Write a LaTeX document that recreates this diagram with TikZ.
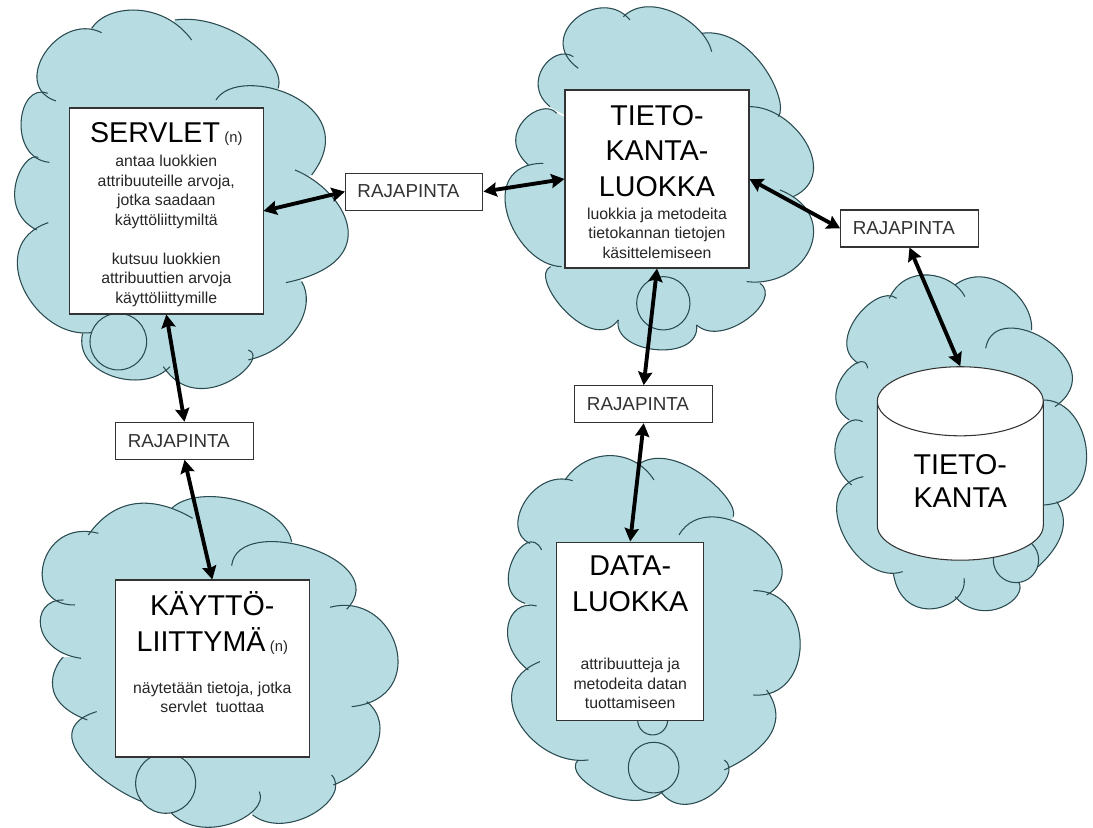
\documentclass[tikz,border=0pt]{standalone}
\usepackage{fontspec}
\setmainfont{Liberation Sans}
\usetikzlibrary{arrows.meta, shapes.geometric, calc}
\definecolor{cloudblue}{HTML}{B7DDE3}
\definecolor{cloudedge}{HTML}{2B4B50}
\definecolor{boxedge}{HTML}{333333}
\setlength{\lineskiplimit}{-100pt}
\newcommand{\titlefont}{\fontsize{16.3}{11.1}\selectfont}
\newcommand{\bodyfont}{\fontsize{9}{11.1}\selectfont}
\newcommand{\nfont}{\fontsize{8.4}{11.1}\selectfont}
\newcommand{\lobe}[4]{\lobeop #1 .. controls ($-0.8333*#1+3*#2-1.5*#3+0.3333*#4$) and ($0.3333*#1-1.5*#2+3*#3-0.8333*#4$) .. #4 \lobeend;}
\newcommand{\cloud}[2]{%
  \coordinate (mid) at #1;
  \def\lobeop{\fill[cloudblue, draw=cloudblue, line width=0.4pt] (mid) -- }\def\lobeend{ -- cycle}#2
  \def\lobeop{\draw[cloudline] }\def\lobeend{}#2
}
\tikzset{
  cloudline/.style={draw=cloudedge, line width=0.6pt},
  tail/.style={draw=cloudedge, fill=cloudblue, line width=0.6pt},
  bigbox/.style={draw=boxedge, fill=white, line width=0.6pt, inner sep=0pt, align=center, font=\bodyfont, text=black!85},
  rajabox/.style={draw=boxedge, fill=white, line width=0.6pt, inner xsep=0.24cm, inner ysep=0pt, text width=2.27cm, minimum height=0.74cm, align=left, font=\fontsize{10.7}{12}\selectfont, text=black!80},
  link/.style={{Stealth[length=7.5pt,width=8pt,inset=1pt]}-{Stealth[length=7.5pt,width=8pt,inset=1pt]}, line width=2.2pt, black}
}
\begin{document}
\begin{tikzpicture}[x=0.02cm, y=-0.02cm]
      \useasboundingbox (0,0) rectangle (1093,828);

      \begin{scope}[scale=0.3333]
        \cloud{(500,600)}{
          \lobe{(168,303)}{(112,215)}{(180,112)}{(305,98)}
          \lobe{(275,85)}{(355,35)}{(470,42)}{(575,120)}
          \lobe{(525,60)}{(680,85)}{(800,170)}{(835,265)}
          \lobe{(648,300)}{(790,260)}{(950,345)}{(935,525)}
          \lobe{(885,510)}{(1012,610)}{(1035,745)}{(858,848)}
          \lobe{(905,845)}{(915,930)}{(860,1020)}{(745,1080)}
          \lobe{(745,1050)}{(735,1110)}{(620,1165)}{(490,1100)}
          \lobe{(510,1100)}{(400,1140)}{(285,1100)}{(248,1000)}
          \lobe{(280,997)}{(123,940)}{(52,790)}{(145,668)}
          \lobe{(110,690)}{(45,600)}{(65,505)}{(115,472)}
          \lobe{(148,487)}{(70,420)}{(75,315)}{(143,280)}
        }
        \draw[tail] (355,1025) circle[radius=85];
      \end{scope}

      \begin{scope}[shift={(0,400)}, scale=0.3333]
        \cloud{(640,780)}{
          \lobe{(225,615)}{(130,550)}{(160,435)}{(295,400)}
          \lobe{(265,405)}{(370,320)}{(480,315)}{(578,355)}
          \lobe{(515,325)}{(640,290)}{(790,330)}{(875,425)}
          \lobe{(695,497)}{(825,425)}{(1020,490)}{(1040,628)}
          \lobe{(990,622)}{(1150,670)}{(1190,820)}{(1055,920)}
          \lobe{(1100,905)}{(1140,990)}{(1100,1085)}{(1000,1155)}
          \lobe{(995,1125)}{(985,1205)}{(880,1265)}{(758,1245)}
          \lobe{(778,1175)}{(745,1245)}{(630,1282)}{(510,1235)}
          \lobe{(500,1210)}{(370,1178)}{(228,1050)}{(290,935)}
          \lobe{(262,960)}{(165,885)}{(165,810)}{(190,772)}
          \lobe{(243,775)}{(140,720)}{(125,640)}{(190,600)}
        }
        \draw[tail] (497,1150) circle[radius=90];
      \end{scope}

      \begin{scope}[shift={(460,0)}, scale=0.3333]
        \cloud{(600,500)}{
          \lobe{(355,205)}{(315,100)}{(400,28)}{(510,60)}
          \lobe{(490,50)}{(590,22)}{(695,70)}{(755,155)}
          \lobe{(725,100)}{(860,145)}{(945,260)}{(955,350)}
          \lobe{(870,320)}{(995,375)}{(1060,490)}{(1000,590)}
          \lobe{(960,570)}{(1060,680)}{(1010,800)}{(860,845)}
          \lobe{(900,850)}{(900,920)}{(810,985)}{(710,975)}
          \lobe{(710,975)}{(650,1045)}{(530,1035)}{(475,960)}
          \lobe{(475,960)}{(370,975)}{(275,880)}{(272,800)}
          \lobe{(305,800)}{(178,718)}{(137,570)}{(250,490)}
          \lobe{(205,495)}{(170,400)}{(225,335)}{(290,340)}
          \lobe{(270,320)}{(235,240)}{(275,175)}{(340,170)}
        }
        \draw[tail] (610,910) circle[radius=80];
      \end{scope}

      \begin{scope}[shift={(480,400)}, scale=0.3333]
        \cloud{(500,700)}{
          \lobe{(150,430)}{(115,355)}{(170,265)}{(278,242)}
          \lobe{(255,240)}{(340,175)}{(440,175)}{(522,240)}
          \lobe{(480,190)}{(605,190)}{(720,270)}{(760,350)}
          \lobe{(597,405)}{(745,358)}{(888,460)}{(860,585)}
          \lobe{(820,572)}{(945,655)}{(945,810)}{(820,885)}
          \lobe{(860,870)}{(885,970)}{(830,1050)}{(733,1110)}
          \lobe{(733,1080)}{(730,1150)}{(640,1210)}{(540,1172)}
          \lobe{(555,1170)}{(430,1198)}{(315,1145)}{(295,1080)}
          \lobe{(325,1080)}{(170,1030)}{(95,900)}{(180,785)}
          \lobe{(145,810)}{(85,720)}{(100,640)}{(170,618)}
          \lobe{(135,610)}{(85,530)}{(125,440)}{(185,450)}
        }
        \draw[tail] (518,960) circle[radius=45];
        \draw[tail] (521,1103) circle[radius=76];
      \end{scope}

      \begin{scope}[shift={(780,170)}, scale=0.3333]
        \cloud{(550,800)}{
          \lobe{(235,580)}{(205,490)}{(270,400)}{(350,385)}
          \lobe{(328,385)}{(400,320)}{(490,325)}{(555,380)}
          \lobe{(525,345)}{(630,325)}{(720,385)}{(755,480)}
          \lobe{(617,535)}{(725,478)}{(860,570)}{(825,710)}
          \lobe{(790,690)}{(900,770)}{(910,920)}{(790,1005)}
          \lobe{(830,995)}{(845,1090)}{(790,1175)}{(715,1235)}
          \lobe{(715,1235)}{(700,1290)}{(620,1322)}{(525,1280)}
          \lobe{(552,1225)}{(510,1300)}{(410,1310)}{(340,1210)}
          \lobe{(368,1205)}{(235,1160)}{(170,1020)}{(250,920)}
          \lobe{(215,945)}{(165,850)}{(190,770)}{(248,755)}
          \lobe{(208,750)}{(170,660)}{(220,585)}{(263,595)}
        }
        \draw[tail] (708,1170) circle[radius=68];
      \end{scope}

      \node[bigbox, minimum width=3.87cm, minimum height=4.12cm] (servlet) at (166.3,211) {\rule{0pt}{15.4pt}{\titlefont\textcolor{black}{SERVLET}} {\nfont (n)}\\[2.6pt] antaa luokkien\\ attribuuteille arvoja,\\ jotka saadaan\\ käyttöliittymiltä\\[11.2pt] kutsuu luokkien\\ attribuuttien arvoja\\ käyttöliittymille};
      \node[bigbox, minimum width=3.87cm, minimum height=3.54cm] (kaytto) at (212.3,668.5) {{\titlefont\textcolor{black}{KÄYTTÖ-}}\\[9.4pt] {\titlefont\textcolor{black}{LIITTYMÄ}} {\nfont (n)}\\[13pt] näytetään tietoja, jotka\\ servlet\ \ tuottaa\\[7.7pt] \mbox{}};
      \node[bigbox, minimum width=3.68cm, minimum height=3.56cm] (tietoluokka) at (657,179) {\rule{0pt}{15pt}{\titlefont\textcolor{black}{TIETO-}}\\[8.9pt] {\titlefont\textcolor{black}{KANTA-}}\\[8.9pt] {\titlefont\textcolor{black}{LUOKKA}}\\[2.2pt] luokkia ja metodeita\\ tietokannan tietojen\\ käsittelemiseen};
      \node[bigbox, minimum width=2.94cm, minimum height=3.57cm] (dataluokka) at (630.2,631.3) {\rule{0pt}{12.3pt}{\titlefont\textcolor{black}{DATA-}}\\[9.2pt] {\titlefont\textcolor{black}{LUOKKA}}\\[22.3pt] attribuutteja ja\\ metodeita datan\\ tuottamiseen};
      \node[cylinder, shape border rotate=90, shape aspect=0.74, draw=boxedge, fill=white, line width=0.6pt, minimum width=3.32cm, minimum height=3.87cm, inner sep=0pt, align=center, font=\titlefont] (tietokanta) at (960.3,481) {TIETO-\\[7.9pt] KANTA};

      \node[rajabox] (raja1) at (414.2,191.6) {RAJAPINTA};
      \node[rajabox] (raja2) at (184.5,440.8) {RAJAPINTA};
      \node[rajabox] (raja3) at (643.7,404.2) {RAJAPINTA};
      \node[rajabox] (raja4) at (909.5,228.5) {RAJAPINTA};

      \draw[link] (servlet.east) -- (raja1.west);
      \draw[link] (servlet.south) -- (raja2.north);
      \draw[link] (raja2.south) -- (kaytto.north);
      \draw[link] (raja1.east) -- (tietoluokka.west);
      \draw[link] (tietoluokka.east) -- (raja4.west);
      \draw[link] (tietoluokka.south) -- (raja3.north);
      \draw[link] (raja3.south) -- (dataluokka.north);
      \draw[link] (raja4.south) -- (tietokanta.90);
    \end{tikzpicture}
\end{document}
